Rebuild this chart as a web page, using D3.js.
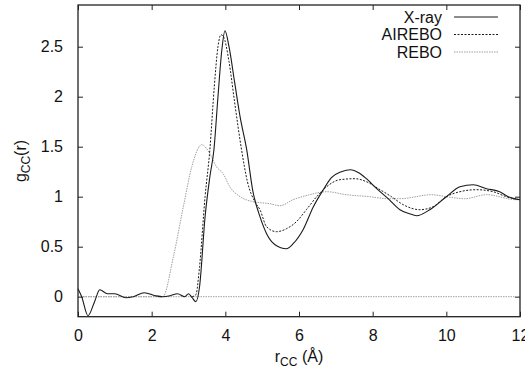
<!DOCTYPE html>
<html>
<head>
<meta charset="utf-8">
<script src="https://cdn.jsdelivr.net/npm/d3@7"></script>
<style>
  body { margin: 0; background: #fff; }
  svg { display: block; }
  text { font-family: "Liberation Sans", Arial, Helvetica, sans-serif; fill: #111; }
</style>
</head>
<body>
<script>
// Dimensions
const W = 525, H = 376;
const margin = { top: 5, right: 5, bottom: 59.3, left: 78 };
const FIG_WIDTH  = W - margin.left - margin.right;
const FIG_HEIGHT = H - margin.top - margin.bottom;

// Data
const xrayR = [0, 0.1, 0.27, 0.45, 0.59, 0.8, 1.0, 1.3, 1.5, 1.8, 2.1, 2.3, 2.5, 2.7, 2.9, 3.0, 3.1, 3.2, 3.3, 3.45, 3.58, 3.69, 3.8, 3.9, 3.99, 4.1, 4.25, 4.4, 4.58, 4.75, 4.94, 5.12, 5.35, 5.66, 5.84, 6.11, 6.39, 6.66, 6.88, 7.15, 7.4, 7.62, 7.83, 8.11, 8.42, 8.74, 9.0, 9.19, 9.55, 10.0, 10.37, 10.73, 11.09, 11.45, 11.68, 12];
const xrayG = [0.08, 0.0, -0.19, -0.05, 0.07, 0.03, 0.03, -0.01, 0.0, 0.04, 0.01, 0.0, 0.01, 0.03, 0.0, 0.03, -0.01, -0.05, 0.1, 0.8, 1.2, 1.47, 2.0, 2.45, 2.66, 2.5, 2.15, 1.8, 1.47, 1.05, 0.8, 0.63, 0.52, 0.48, 0.53, 0.67, 0.9, 1.07, 1.19, 1.25, 1.27, 1.24, 1.18, 1.08, 0.98, 0.87, 0.83, 0.81, 0.87, 1.0, 1.10, 1.12, 1.08, 1.05, 1.0, 0.97];

const aireboR = [3.1, 3.2, 3.3, 3.45, 3.58, 3.7, 3.8, 3.88, 3.95, 4.1, 4.25, 4.44, 4.6, 4.8, 4.94, 5.12, 5.39, 5.66, 5.93, 6.2, 6.48, 6.75, 7.11, 7.52, 7.83, 8.2, 8.51, 8.83, 9.28, 9.64, 10.0, 10.37, 10.82, 11.27, 11.63, 12];
const aireboG = [0, 0.02, 0.3, 1.0, 1.47, 2.1, 2.5, 2.62, 2.6, 2.35, 1.95, 1.47, 1.15, 0.95, 0.87, 0.70, 0.65, 0.68, 0.75, 0.87, 1.0, 1.10, 1.17, 1.18, 1.15, 1.07, 1.0, 0.92, 0.87, 0.90, 1.0, 1.05, 1.07, 1.05, 1.0, 0.97];

const reboR = [0, 2.3, 2.59, 2.86, 3.09, 3.36, 3.58, 3.76, 3.94, 4.12, 4.4, 4.76, 5.21, 5.48, 5.84, 6.29, 6.75, 7.29, 7.92, 8.42, 8.74, 9.6, 10.0, 10.5, 11.09, 11.9, 12];
const reboG = [0, 0.0, 0.40, 0.90, 1.30, 1.52, 1.43, 1.30, 1.23, 1.10, 1.0, 0.95, 0.93, 0.91, 0.97, 1.02, 1.05, 1.02, 1.0, 0.98, 0.98, 1.02, 1.0, 0.98, 1.02, 0.97, 0.97];

const xTicks = [0, 2, 4, 6, 8, 10, 12];
const yTicks = [0, 0.5, 1, 1.5, 2, 2.5];
const names  = ["X-ray", "AIREBO", "REBO"];

// Styles
const styles = [
  { stroke: "#1a1a1a", dash: null, width: 1.1 },
  { stroke: "#1a1a1a", dash: "2,1.5", width: 1 },
  { stroke: "#a0a0a0", dash: "1.5,1", width: 1 }
];

// Scales
const x = d3.scaleLinear().domain([0, 12]).range([0, FIG_WIDTH]);
const y = d3.scaleLinear().domain([-0.2, 2.917]).range([FIG_HEIGHT, 0]);

const svg = d3.select("body").append("svg")
  .attr("width", W)
  .attr("height", H);

svg.append("rect").attr("width", W).attr("height", H).attr("fill", "#fff");

const g = svg.append("g")
  .attr("transform", `translate(${margin.left},${margin.top})`);

// Axes (gnuplot style: ticks inside, mirrored)
const TICK = 5;
const axisStyle = sel => {
  sel.select(".domain").remove();
  sel.selectAll("line").attr("stroke", "#222");
  sel.selectAll("text").attr("font-size", "16px");
};

g.append("g")
  .attr("transform", `translate(0,${FIG_HEIGHT})`)
  .call(d3.axisBottom(x).tickValues(xTicks).tickSize(-TICK).tickPadding(13).tickFormat(d3.format("d")))
  .call(axisStyle)
  .call(s => s.selectAll("text").attr("fill", "#111"));

g.append("g")
  .call(d3.axisTop(x).tickValues(xTicks).tickSize(-TICK).tickFormat(""))
  .call(axisStyle);

g.append("g")
  .call(d3.axisLeft(y).tickValues(yTicks).tickSize(-TICK).tickPadding(15).tickFormat(d => d3.format("")(d)))
  .call(axisStyle)
  .call(s => s.selectAll("text").attr("fill", "#111"));

g.append("g")
  .attr("transform", `translate(${FIG_WIDTH},0)`)
  .call(d3.axisRight(y).tickValues(yTicks).tickSize(-TICK).tickFormat(""))
  .call(axisStyle);

// Zero axis
g.append("line")
  .attr("x1", x(0)).attr("x2", x(12))
  .attr("y1", y(0)).attr("y2", y(0))
  .attr("stroke", "#a0a0a0")
  .attr("stroke-width", 1)
  .attr("stroke-dasharray", "1.5,1");

// Curves
const series = [
  xrayR.map((r, i) => [r, xrayG[i]]),
  aireboR.map((r, i) => [r, aireboG[i]]),
  reboR.map((r, i) => [r, reboG[i]])
];

const line = d3.line()
  .x(d => x(d[0]))
  .y(d => y(d[1]))
  .curve(d3.curveMonotoneX);

[2, 1, 0].forEach(i => {
  g.append("path")
    .datum(series[i])
    .attr("fill", "none")
    .attr("stroke", styles[i].stroke)
    .attr("stroke-width", styles[i].width)
    .attr("stroke-dasharray", styles[i].dash)
    .attr("d", line);
});

// Frame
g.append("rect")
  .attr("width", FIG_WIDTH)
  .attr("height", FIG_HEIGHT)
  .attr("fill", "none")
  .attr("stroke", "#222")
  .attr("stroke-width", 1.3);

// Legend
const legend = svg.append("g");
names.forEach((n, i) => {
  const ly = 17 + i * 17.5;
  legend.append("text")
    .attr("x", 442)
    .attr("y", ly + 5.5)
    .attr("text-anchor", "end")
    .attr("font-size", "16px")
    .text(n);
  legend.append("line")
    .attr("x1", 454).attr("x2", 498)
    .attr("y1", ly).attr("y2", ly)
    .attr("stroke", styles[i].stroke)
    .attr("stroke-width", styles[i].width)
    .attr("stroke-dasharray", styles[i].dash);
});

// Axis labels
const yl = svg.append("text")
  .attr("transform", `translate(26,161) rotate(-90)`)
  .attr("text-anchor", "middle")
  .attr("font-size", "16px");
yl.append("tspan").text("g");
yl.append("tspan").attr("font-size", "12px").attr("dy", 4).text("CC");
yl.append("tspan").attr("dy", -4).text("(r)");

const xl = svg.append("text")
  .attr("x", 299)
  .attr("y", 362)
  .attr("text-anchor", "middle")
  .attr("font-size", "16px");
xl.append("tspan").text("r");
xl.append("tspan").attr("font-size", "12px").attr("dy", 4).text("CC");
xl.append("tspan").attr("dy", -4).text(" (Å)");
</script>
</body>
</html>
